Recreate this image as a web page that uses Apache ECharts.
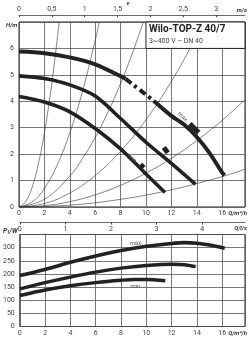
<!DOCTYPE html>
<html>
<head>
<meta charset="utf-8">
<script src="https://cdn.jsdelivr.net/npm/echarts@6/dist/echarts.min.js"></script>
<style>
  html, body { margin: 0; padding: 0; background: #fff; }
  #chart { width: 251px; height: 340px; }
</style>
</head>
<body>
<div id="chart"></div>
<script>
// Q/m³/h -> H/m, drei Drehzahlstufen
const maxH = [[0, 5.88], [2, 5.82], [4, 5.66], [6, 5.4], [8, 4.95], [8.4, 4.85]];
const maxDashH = [[8.4, 4.85], [9, 4.62], [10, 4.25], [10.6, 4.02]];
const maxTailH = [[10.6, 4.02], [12, 3.45], [13, 3.12], [14, 2.65], [15, 2.05], [16, 1.3], [16.2, 1.2]];
const midH = [[0, 4.96], [2, 4.86], [4, 4.62], [6, 4.2], [8, 3.35], [10, 2.45], [12, 1.65], [13.9, 0.86]];
const minH = [[0, 4.18], [2, 3.97], [4, 3.6], [6, 2.97], [8, 2.2], [10, 1.25], [11.5, 0.55]];

// kurze Markierungen neben den Kennlinien
const maxMark = [[13.45, 3.15], [14.15, 2.82]];
const midMark = [[11.4, 2.25], [11.72, 2.05]];
const minMark = [[9.6, 1.62], [9.85, 1.5]];

// Anlagenkennlinien
const sysA = [[0, 0], [0.5, 0.18], [1, 0.7], [1.5, 1.58], [2, 2.8], [2.5, 4.38], [3, 6.3], [3.16, 7]];
const sysB = [[0, 0], [1, 0.18], [2, 0.7], [3, 1.58], [4, 2.8], [5, 4.38], [6, 6.3], [6.32, 7]];
const sysC = [[0, 0], [2, 0.29], [4, 1.17], [5, 1.83], [6, 2.63], [7, 3.58], [8, 4.67], [9, 5.91], [9.79, 7]];
const sysD = [[0, 0], [2, 0.13], [4, 0.53], [6, 1.19], [8, 2.11], [10, 3.3], [12, 4.75], [14, 6.47], [14.56, 7]];
const sysE = [[0, 0], [2, 0.05], [4, 0.2], [6, 0.46], [8, 0.82], [10, 1.28], [12, 1.84], [14, 2.51], [16, 3.28], [17.8, 4.06]];
const sysF = [[0, 0], [4, 0.07], [8, 0.29], [12, 0.65], [16, 1.15], [17.8, 1.43]];

// Q/m³/h -> P1/W
const maxP = [[0, 194], [2, 217], [4, 244], [6, 268], [8, 289], [10, 305], [12, 316], [13, 319], [14, 317], [15, 310], [16.2, 298]];
const midP = [[0, 143], [2, 167], [4, 188], [6, 207], [8, 222], [10, 232], [12, 237], [13, 235], [13.9, 228]];
const minP = [[0, 118], [2, 139], [4, 155], [6, 167], [8, 176], [9, 179], [10, 179], [11.5, 174]];

const qMax = 17.8;
const vMax = 3.44;
const lsMax = 4.94;

const font = 'Roboto';
const ink = '#222';
const gridCol = '#555';

const chart = echarts.init(document.getElementById('chart'));

const comma = v => String(v).replace('.', ',');
const labelStyle = { fontFamily: font, fontSize: 7, color: '#444' };

function pump(data, grid, width, dash) {
  return {
    type: 'line', data: data, xAxisIndex: grid * 2, yAxisIndex: grid,
    smooth: 0.3, showSymbol: false, silent: true, z: 5,
    lineStyle: { color: ink, width: width, type: dash || 'solid', cap: 'butt' }
  };
}
function sys(data) {
  return {
    type: 'line', data: data, xAxisIndex: 0, yAxisIndex: 0,
    smooth: 0.4, showSymbol: false, silent: true, z: 3,
    lineStyle: { color: '#333', width: 0.6 }
  };
}

const option = {
  animation: false,
  grid: [
    { left: 19, right: 6, top: 22, height: 185, show: true, borderColor: '#222', borderWidth: 1 },
    { left: 19, right: 6, top: 234.5, height: 92, show: true, borderColor: '#222', borderWidth: 1 }
  ],
  xAxis: [
    { gridIndex: 0, type: 'value', min: 0, max: qMax, interval: 2, position: 'bottom',
      axisLine: { show: false }, axisTick: { show: false },
      axisLabel: Object.assign({ margin: 3, showMaxLabel: false }, labelStyle),
      splitLine: { lineStyle: { color: gridCol, width: 0.8 } } },
    { gridIndex: 0, type: 'value', min: 0, max: vMax, interval: 0.5, position: 'top', offset: 7,
      axisLine: { show: true, lineStyle: { color: '#444', width: 0.8 } },
      axisTick: { show: true, inside: true, length: 2, lineStyle: { color: '#444' } },
      axisLabel: Object.assign({ margin: 2, showMaxLabel: false, formatter: comma }, labelStyle),
      splitLine: { show: false } },
    { gridIndex: 1, type: 'value', min: 0, max: qMax, interval: 2, position: 'bottom',
      axisLine: { show: false }, axisTick: { show: false },
      axisLabel: Object.assign({ margin: 3, showMaxLabel: false }, labelStyle),
      splitLine: { lineStyle: { color: gridCol, width: 0.8 } } },
    { gridIndex: 1, type: 'value', min: 0, max: lsMax, interval: 1, position: 'top', offset: 12,
      axisLine: { show: true, lineStyle: { color: '#444', width: 0.8 } },
      axisTick: { show: true, inside: true, length: 2, lineStyle: { color: '#444' } },
      axisLabel: Object.assign({ inside: true, margin: 3, showMaxLabel: false }, labelStyle),
      splitLine: { show: false } }
  ],
  yAxis: [
    { gridIndex: 0, type: 'value', min: 0, max: 7, interval: 1,
      axisLine: { show: false }, axisTick: { show: false },
      axisLabel: Object.assign({ margin: 5, showMaxLabel: false }, labelStyle),
      splitLine: { lineStyle: { color: gridCol, width: 0.8 } } },
    { gridIndex: 1, type: 'value', min: 0, max: 350, interval: 50,
      axisLine: { show: false }, axisTick: { show: false },
      axisLabel: Object.assign({ margin: 5, showMaxLabel: false }, labelStyle),
      splitLine: { lineStyle: { color: gridCol, width: 0.8 } } }
  ],
  series: [
    sys(sysA), sys(sysB), sys(sysC), sys(sysD), sys(sysE), sys(sysF),
    pump(maxH, 0, 4), pump(maxDashH, 0, 4, [7, 4, 3, 4]), pump(maxTailH, 0, 4),
    pump(midH, 0, 3.6), pump(minH, 0, 3.6),
    pump(maxMark, 0, 5), pump(midMark, 0, 5), pump(minMark, 0, 4),
    pump(maxP, 1, 3.6), pump(midP, 1, 3.4), pump(minP, 1, 3.4)
  ]
};
chart.setOption(option);

// Beschriftungen an Datenpunkten
const notes = [
  ['max.', 0, 12.92, 3.39, -0.75],
  ['min.', 0, 8.93, 1.82, -0.7],
  ['max.', 1, 9.2, 316, 0.05],
  ['min.', 1, 9.2, 153, 0]
];
const px = (g, q, y) => chart.convertToPixel({ xAxisIndex: g * 2, yAxisIndex: g }, [q, y]);

const boxA = px(0, 10, 7);
const boxB = px(0, qMax, 6);

const unit = (text, x, y, align) => ({
  type: 'text', x: x, y: y, z: 110,
  style: { text: text, fontFamily: font, fontSize: 6, fontStyle: 'italic', fontWeight: 'bold',
    fill: '#333', align: align || 'left', verticalAlign: 'middle' }
});

const graphic = [
  { type: 'rect', z: 100,
    shape: { x: boxA[0], y: boxA[1], width: boxB[0] - boxA[0], height: boxB[1] - boxA[1] },
    style: { fill: '#fff', stroke: '#222', lineWidth: 1 } },
  { type: 'text', x: boxA[0] + 3, y: boxA[1] + 7.5, z: 101,
    style: { text: 'Wilo-TOP-Z 40/7', fontFamily: font, fontSize: 10, fontWeight: 'bold',
      fill: '#222', verticalAlign: 'middle' } },
  { type: 'text', x: boxA[0] + 3, y: boxA[1] + 19.5, z: 101,
    style: { text: '3~400 V – DN 40', fontFamily: font, fontSize: 7, fill: '#444', verticalAlign: 'middle' } },
  unit('v', 128, 3, 'center'),
  unit('m/s', 247, 10, 'right'),
  unit('H/m', 6, 25),
  unit('Q/m³/h', 247, 213, 'right'),
  unit('Q/l/s', 247, 228, 'right'),
  unit('Q/m³/h', 247, 333, 'right'),
  { type: 'text', x: 3, y: 231, z: 110,
    style: { text: '{p|P}{s|1}{p|/W}', verticalAlign: 'middle',
      rich: { p: { fontFamily: font, fontSize: 6.5, fontStyle: 'italic', fontWeight: 'bold', fill: '#333' },
              s: { fontFamily: font, fontSize: 4.5, fontStyle: 'italic', fontWeight: 'bold', fill: '#333', padding: [4, 0, 0, 0] } } } }
];
notes.forEach(n => {
  const p = px(n[1], n[2], n[3]);
  graphic.push({ type: 'text', x: p[0], y: p[1], rotation: n[4], z: 50,
    style: { text: n[0], fontFamily: font, fontSize: 6, fill: '#555', align: 'center', verticalAlign: 'middle' } });
});
chart.setOption({ graphic: graphic });
</script>
</body>
</html>
